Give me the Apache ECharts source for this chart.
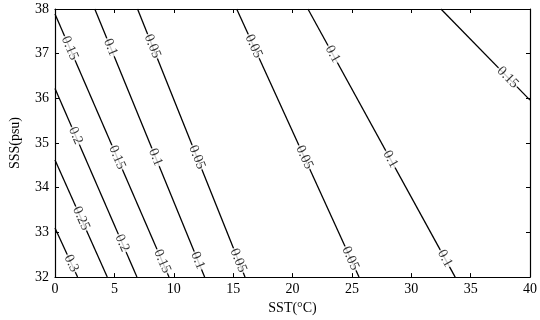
<!DOCTYPE html>
<html><head><meta charset="utf-8">
<script src="https://cdn.jsdelivr.net/npm/echarts@6/dist/echarts.min.js"></script>
<style>html,body{margin:0;padding:0;background:#fff}#c{width:540px;height:320px}</style>
</head><body><div id="c"></div>
<script>
// contour levels and straight-segment endpoints
const levels   = ['0.3', '0.25', '0.2', '0.15', '0.1', '0.05', '0.05', '0.1', '0.15'];
const sstStart = [0, 0, 0, 0, 3.35, 6.95, 15.3, 21.3, 32.5];
const sssStart = [33.1, 34.62, 36.22, 37.89, 38, 38, 38, 38, 38];
const sstEnd   = [1.9, 4.4, 6.9, 9.6, 12.6, 16.0, 25.6, 33.7, 40];
const sssEnd   = [32, 32, 32, 32, 32, 32, 32, 32, 35.96];
// fractional label positions along each contour
const labelT   = [[0.72], [0.5], [0.25, 0.82], [0.13, 0.545, 0.94], [0.143, 0.553, 0.938],
                  [0.139, 0.553, 0.938], [0.139, 0.553, 0.93], [0.168, 0.56, 0.93], [0.75]];
const xTicks = [0, 5, 10, 15, 20, 25, 30, 35, 40];
const yTicks = [32, 33, 34, 35, 36, 37, 38];

const FONT = 'Liberation Serif';
const chart = echarts.init(document.getElementById('c'));
const axisCommon = {
  axisLine: {show: true, onZero: false, lineStyle: {color: '#000', width: 1.2}},
  axisTick: {show: true, inside: true, length: 4, lineStyle: {color: '#000'}},
  splitLine: {show: false}
};
const lineSeries = levels.map((lv, i) => ({
  type: 'line', name: 'c' + i, symbol: 'none', silent: true, animation: false,
  lineStyle: {color: '#000', width: 1.3}, z: 2,
  data: [[sstStart[i], sssStart[i]], [sstEnd[i], sssEnd[i]]]
}));
const base = {
  animation: false,
  grid: {left: 48, right: 10, top: 9, bottom: 38},
  xAxis: [
    Object.assign({type: 'value', min: xTicks[0], max: xTicks[xTicks.length - 1], interval: 5,
      position: 'bottom', name: 'SST(°C)', nameLocation: 'middle', nameGap: 21,
      nameTextStyle: {fontFamily: FONT, fontSize: 14, color: '#000'},
      axisLabel: {fontFamily: FONT, fontSize: 14, color: '#000', margin: 5}}, axisCommon),
    Object.assign({type: 'value', min: 0, max: 40, interval: 5, position: 'top',
      axisLabel: {show: false}}, axisCommon)
  ],
  yAxis: [
    Object.assign({type: 'value', min: yTicks[0], max: yTicks[yTicks.length - 1], interval: 1,
      position: 'left', name: 'SSS(psu)', nameLocation: 'middle', nameGap: 33, nameRotate: 90,
      nameTextStyle: {fontFamily: FONT, fontSize: 14, color: '#000'},
      axisLabel: {fontFamily: FONT, fontSize: 14, color: '#000', margin: 6}}, axisCommon),
    Object.assign({type: 'value', min: 32, max: 38, interval: 1, position: 'right',
      axisLabel: {show: false}}, axisCommon)
  ],
  series: lineSeries
};
chart.setOption(base);

const labelData = [];
levels.forEach((lv, i) => {
  const p0 = chart.convertToPixel({gridIndex: 0}, [sstStart[i], sssStart[i]]);
  const p1 = chart.convertToPixel({gridIndex: 0}, [sstEnd[i], sssEnd[i]]);
  const ang = -Math.atan2(p1[1] - p0[1], p1[0] - p0[0]) * 180 / Math.PI;
  labelT[i].forEach(t => {
    labelData.push({
      value: [sstStart[i] + t * (sstEnd[i] - sstStart[i]), sssStart[i] + t * (sssEnd[i] - sssStart[i])],
      label: {show: true, formatter: lv, rotate: ang, position: 'inside',
        fontFamily: FONT, fontSize: 14, color: '#000',
        backgroundColor: '#fff', padding: [0, 1, 0, 1], lineHeight: 12}
    });
  });
});
chart.setOption({
  series: lineSeries.concat([{
    type: 'scatter', symbolSize: 1, itemStyle: {color: 'rgba(0,0,0,0)'}, silent: true,
    z: 5, data: labelData
  }])
});
</script></body></html>
